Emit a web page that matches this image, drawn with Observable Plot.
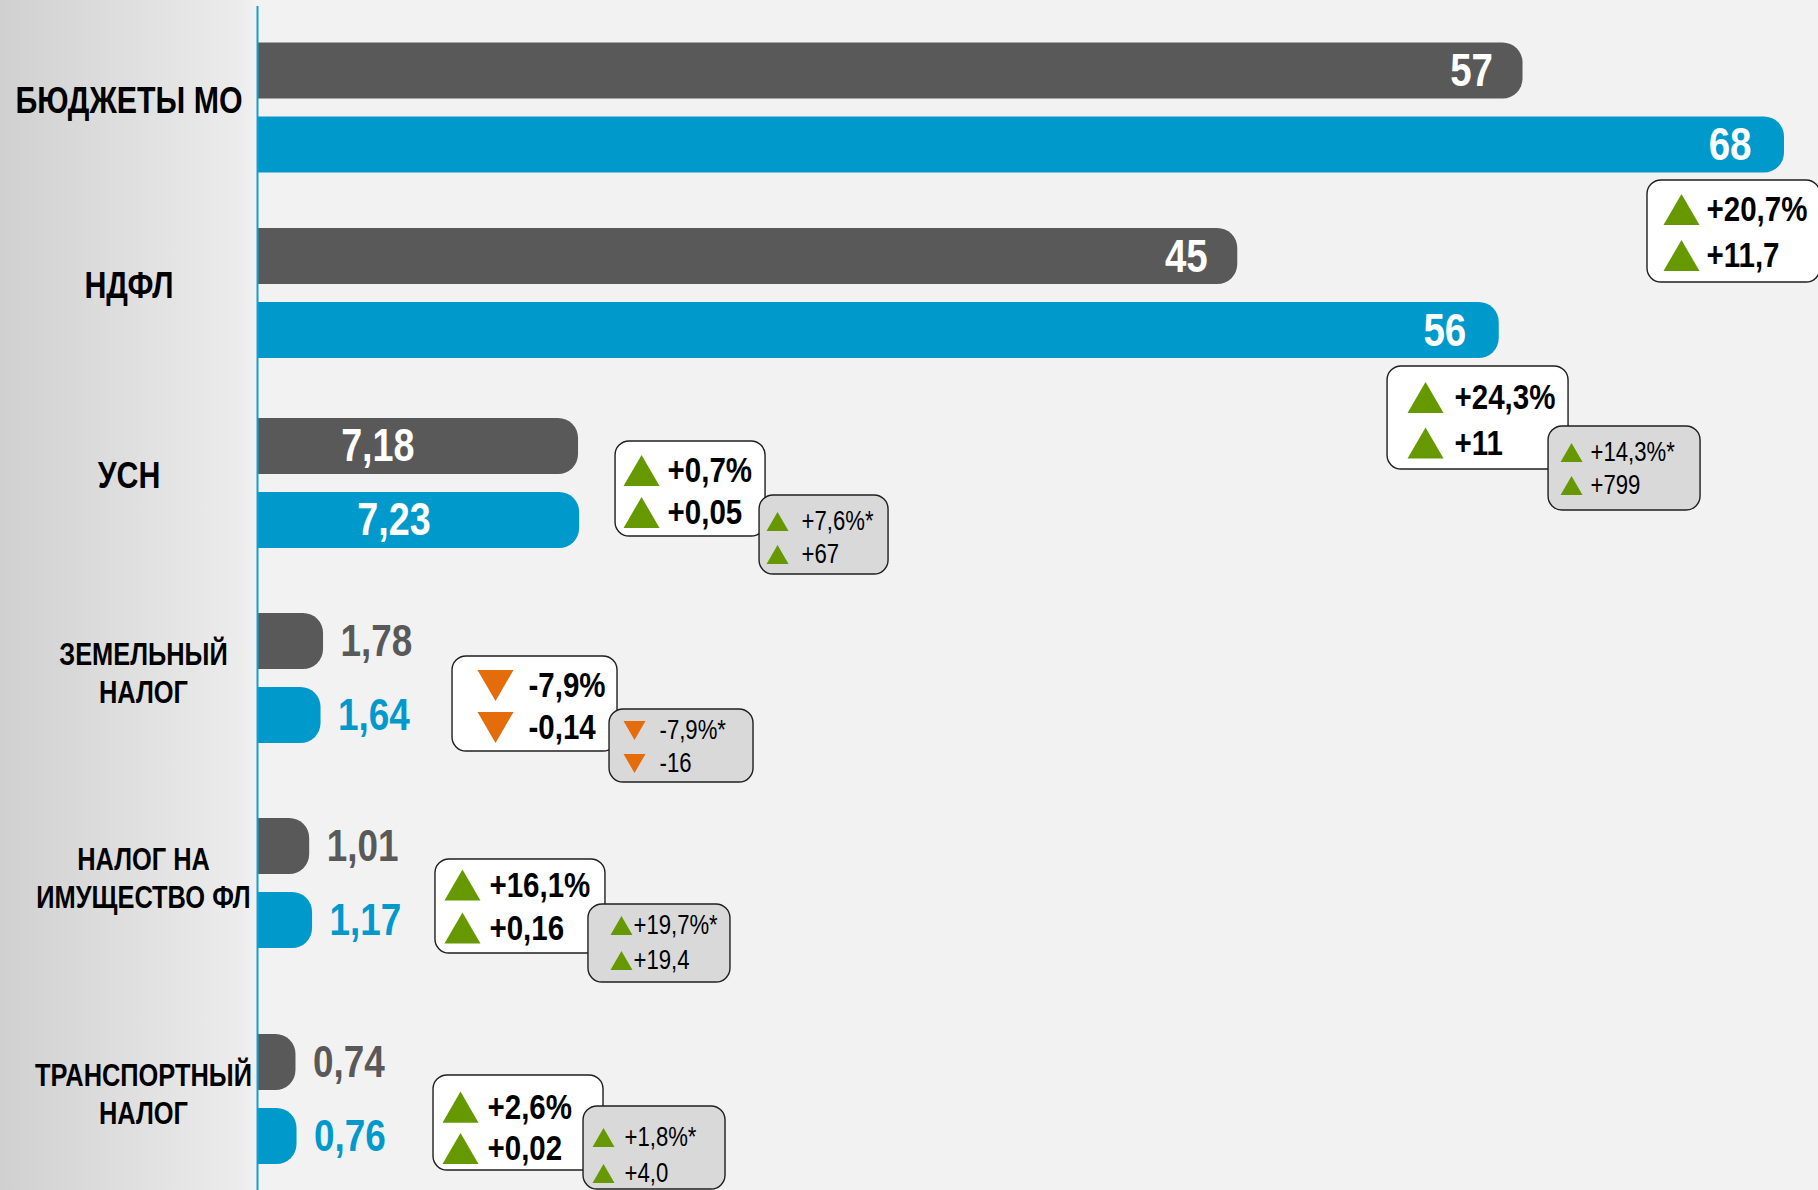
<!DOCTYPE html>
<html>
<head>
<meta charset="utf-8">
<script src="https://cdn.jsdelivr.net/npm/d3@7"></script>
<script src="https://cdn.jsdelivr.net/npm/@observablehq/plot@0.6"></script>
<style>
  html, body { margin: 0; padding: 0; background: #f2f2f2; }
  #chart { width: 1818px; height: 1190px; overflow: hidden; }
</style>
</head>
<body>
<div id="chart"></div>
<script>
// ---------- data ----------
const categories = ["БЮДЖЕТЫ МО", "НДФЛ", "УСН", "ЗЕМЕЛЬНЫЙ\nНАЛОГ", "НАЛОГ НА\nИМУЩЕСТВО ФЛ", "ТРАНСПОРТНЫЙ\nНАЛОГ"];
const prevValues = [57, 45, 7.18, 1.78, 1.01, 0.74];
const currValues = [68, 56, 7.23, 1.64, 1.17, 0.76];
const changePct  = ["+20,7%", "+24,3%", "+0,7%", "-7,9%", "+16,1%", "+2,6%"];
const changeAbs  = ["+11,7", "+11", "+0,05", "-0,14", "+0,16", "+0,02"];
const regionPct  = [null, "+14,3%*", "+7,6%*", "-7,9%*", "+19,7%*", "+1,8%*"];
const regionAbs  = [null, "+799", "+67", "-16", "+19,4", "+4,0"];

// ---------- styles ----------
const FONT = "'Liberation Sans', Arial, sans-serif";
const NARROW = 0.82; // horizontal squeeze to emulate a narrow face
const GRAY = "#595959", BLUE = "#0099cc", GREEN = "#669900", ORANGE = "#e46c0a";

const rows = categories.map((cat, i) => ({
  cat, idx: i, prev: prevValues[i], curr: currValues[i],
  pct: changePct[i], abs: changeAbs[i], rpct: regionPct[i], rabs: regionAbs[i]
}));
const fmt = v => String(v).replace(".", ",");

// annotation placement (pixel offsets from the current-year bar end / category centre)
const layout = [
  {white: {l: -137, r: 36, t: 72.5, b: 174.5, tri: -103, txt: -78, lines: [101.5, 147.5]}, gray: null},
  {white: {l: -111.7, r: 69.3, t: 73, b: 176, tri: -73.7, txt: -44.7, lines: [104, 149.5]},
   gray: {l: 49.3, r: 201.3, t: 133, b: 217, tri: 72.3, txt: 91.3, lines: [159, 192]}},
  {white: {l: 35.9, r: 185.9, t: -42, b: 53, tri: 61.9, txt: 87.9, lines: [-13, 29]},
   gray: {l: 179.9, r: 308.9, t: 12, b: 91, tri: 197.9, txt: 221.9, lines: [38, 71]}},
  {white: {l: 131.5, r: 296.5, t: -22, b: 73, tri: 174.5, txt: 207.5, lines: [7, 49]},
   gray: {l: 288.5, r: 432.5, t: 31, b: 104, tri: 313.5, txt: 338.5, lines: [52, 85]}},
  {white: {l: 122.9, r: 292.9, t: -24, b: 70, tri: 149.9, txt: 176.9, lines: [1.5, 44.5]},
   gray: {l: 275.9, r: 417.9, t: 21, b: 99, tri: 308.9, txt: 320.9, lines: [42, 77]}},
  {white: {l: 136.5, r: 306.5, t: -24, b: 71, tri: 163.5, txt: 190.5, lines: [7.7, 49]},
   gray: {l: 286.5, r: 428.5, t: 7, b: 90, tri: 306.5, txt: 327.5, lines: [38, 74]}}
];

function boxMarks(d, box, big) {
  const texts = big ? [d.pct, d.abs] : [d.rpct, d.rabs];
  const half = big ? 10.4 : 6.35;                  // triangle geometry unit
  const r = half * Math.sqrt(3 * Math.sqrt(3) / Math.PI);
  const marks = [
    Plot.rect([d], {
      x1: "curr", x2: "curr", y1: "idx", y2: "idx",
      insetLeft: box.l, insetRight: -box.r, insetTop: box.t, insetBottom: -box.b,
      rx: 14, fill: big ? "#ffffff" : "#d9d9d9", stroke: "#1f1f1f", strokeWidth: 1.4
    })
  ];
  texts.forEach((t, k) => {
    const down = t.startsWith("-");
    marks.push(Plot.dot([d], {
      x: "curr", y: "idx", symbol: "triangle", r, rotate: down ? 180 : 0,
      fill: down ? ORANGE : GREEN, stroke: "none",
      dx: box.tri, dy: box.lines[k] + (down ? -half / 2 : half / 2)
    }));
    marks.push(Plot.text([d], {
      x: "curr", y: "idx", text: () => t, dx: box.txt, dy: box.lines[k],
      textAnchor: "start", fontSize: big ? 36 : 27, fontWeight: big ? "bold" : "normal",
      fill: "#000"
    }));
  });
  return marks;
}

const annotations = rows.flatMap((d, i) => [
  ...boxMarks(d, layout[i].white, true),
  ...(layout[i].gray ? boxMarks(d, layout[i].gray, false) : [])
]);

const chart = Plot.plot({
  width: 1818,
  height: 1190,
  marginLeft: 257, marginRight: 0, marginTop: 0, marginBottom: 0,
  style: {
    background: "linear-gradient(90deg, #d0d0d0 0px, #ececec 240px, #f2f2f2 257px)",
    fontFamily: FONT,
    overflow: "visible"
  },
  x: {type: "linear", domain: [0, 1, 2, 7.2, 20, 68], range: [257, 309, 327, 579, 643, 1784], axis: null},
  y: {type: "linear", domain: [0, 1, 2, 3, 4, 5], range: [107.5, 293, 483, 678, 883, 1099], axis: null},
  marks: [
    // previous-year bars (gray) and current-year bars (blue), rounded right end
    Plot.rect(rows, {x1: 0, x2: "prev", y1: "idx", y2: "idx", insetLeft: -30, insetTop: -65, insetBottom: 9,
      rx: 20, fill: GRAY, clip: true}),
    Plot.rect(rows, {x1: 0, x2: "curr", y1: "idx", y2: "idx", insetLeft: -30, insetTop: 9, insetBottom: -65,
      rx: 20, fill: BLUE, clip: true}),

    // value labels: inside large bars
    Plot.text(rows, {filter: d => d.prev >= 20, x: "prev", y: "idx", text: d => fmt(d.prev), dx: -30, dy: -37,
      textAnchor: "end", fill: "#fff", fontSize: 47, fontWeight: "bold"}),
    Plot.text(rows, {filter: d => d.curr >= 20, x: "curr", y: "idx", text: d => fmt(d.curr), dx: -33, dy: 37,
      textAnchor: "end", fill: "#fff", fontSize: 47, fontWeight: "bold"}),
    // inside medium bars
    Plot.text(rows, {filter: d => d.prev >= 5 && d.prev < 20, x: "prev", y: "idx", text: d => fmt(d.prev), dx: -164, dy: -37,
      textAnchor: "end", fill: "#fff", fontSize: 46, fontWeight: "bold"}),
    Plot.text(rows, {filter: d => d.curr >= 5 && d.curr < 20, x: "curr", y: "idx", text: d => fmt(d.curr), dx: -149, dy: 37,
      textAnchor: "end", fill: "#fff", fontSize: 46, fontWeight: "bold"}),
    // outside small bars
    Plot.text(rows, {filter: d => d.prev < 5, x: "prev", y: "idx", text: d => fmt(d.prev), dx: 17, dy: -37,
      textAnchor: "start", fill: GRAY, fontSize: 45, fontWeight: "bold"}),
    Plot.text(rows, {filter: d => d.curr < 5, x: "curr", y: "idx", text: d => fmt(d.curr), dx: 17, dy: 37,
      textAnchor: "start", fill: BLUE, fontSize: 45, fontWeight: "bold"}),

    // vertical axis line
    Plot.ruleX([0], {stroke: "#1a9bd0", strokeWidth: 2, insetTop: 6}),

    // category labels
    Plot.text(rows, {filter: d => !d.cat.includes("\n"), frameAnchor: "left", y: "idx", text: "cat",
      dx: -128.5, dy: -7, textAnchor: "middle", fontSize: 37, fontWeight: "bold", fill: "#000"}),
    Plot.text(rows, {filter: d => d.cat.includes("\n"), frameAnchor: "left", y: "idx", text: "cat",
      dx: -114, dy: -7, textAnchor: "middle", fontSize: 31, lineHeight: 1.25, fontWeight: "bold", fill: "#000"}),

    // change annotations
    ...annotations
  ]
});

// emulate the narrow typeface: squeeze every label horizontally around its anchor
d3.select(chart).selectAll("text").each(function () {
  const t = this.getAttribute("transform");
  if (t) this.setAttribute("transform", `${t} scale(${NARROW},1)`);
});

document.getElementById("chart").appendChild(chart);
</script>
</body>
</html>
